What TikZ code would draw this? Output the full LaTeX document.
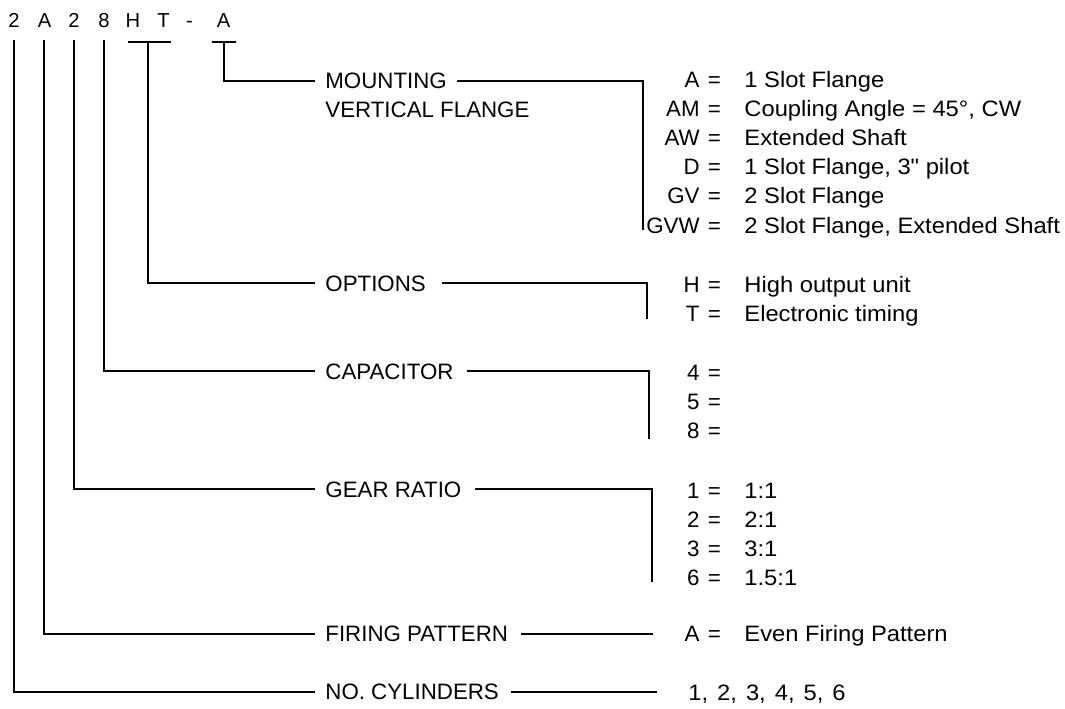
\documentclass[tikz,border=0pt]{standalone}
\usepackage{fontspec}
\setmainfont{Liberation Sans}
\newfontfamily\valfont[FakeStretch=1.065]{Liberation Sans}
\newcommand\lblsize{\fontsize{11.15pt}{13pt}\selectfont}
\newcommand\codesize{\fontsize{10.1pt}{12pt}\selectfont}
\tikzset{
  lbl/.style={anchor=base west, inner sep=0pt, font=\lblsize},
  keyc/.style={anchor=base east, inner sep=0pt, font=\lblsize},
  eqc/.style={anchor=base, inner sep=0pt, font=\lblsize},
  valc/.style={anchor=base west, inner sep=0pt, font=\valfont\lblsize},
  codec/.style={anchor=base, inner sep=0pt, font=\codesize},
  wire/.style={line width=1pt, line cap=butt, line join=miter}
}
\begin{document}
\begin{tikzpicture}[x=0.5pt, y=-0.5pt]
\useasboundingbox (0,0) rectangle (1065,708);

% model code
\node[codec] (c1) at (14,27.7) {2};
\node[codec] (c2) at (44.5,27.7) {A};
\node[codec] (c3) at (74,27.7) {2};
\node[codec] (c4) at (104,27.7) {8};
\node[codec] (c5) at (133,27.7) {H};
\node[codec] (c6) at (163.5,27.7) {T};
\node[codec] (c7) at (189.5,27.7) {-};
\node[codec] (c8) at (223.5,27.7) {A};

% bracket coordinates under code letters
\coordinate (t1) at (14,40);
\coordinate (t2) at (44.3,40);
\coordinate (t3) at (74,40);
\coordinate (t4) at (104.3,40);
\coordinate (htL) at (127.5,41.7);
\coordinate (htR) at (170.5,41.7);
\coordinate (htM) at (148.3,41.7);
\coordinate (mL) at (211.5,41.7);
\coordinate (mR) at (235.5,41.7);
\coordinate (mM) at (224,41.7);

% category labels
\node[lbl] (mnt) at (325,88.7) {MOUNTING};
\node[lbl] (vfl) at (325,117.7) {VERTICAL FLANGE};
\node[lbl] (opt) at (325,291) {OPTIONS};
\node[lbl] (cap) at (325,379) {CAPACITOR};
\node[lbl] (gear) at (325,497) {GEAR RATIO};
\node[lbl] (fir) at (325,641.5) {FIRING PATTERN};
\node[lbl] (cyl) at (325,699.7) {NO. CYLINDERS};

% bracket ends on the right
\coordinate (mntB) at (643.3,230);
\coordinate (optB) at (646.7,318.5);
\coordinate (capB) at (649.3,438.5);
\coordinate (gearB) at (651.7,581.5);
\coordinate (firE) at (653.3,0);
\coordinate (cylE) at (656.7,0);

% left connectors
\draw[wire] (htL) -- (htR);
\draw[wire] (mL) -- (mR);
\draw[wire] (mM) |- ([xshift=-5pt]mnt.west);
\draw[wire] (htM) |- ([xshift=-5pt]opt.west);
\draw[wire] (t4) |- ([xshift=-5pt]cap.west);
\draw[wire] (t3) |- ([xshift=-5pt]gear.west);
\draw[wire] (t2) |- ([xshift=-5pt]fir.west);
\draw[wire] (t1) |- ([xshift=-5pt]cyl.west);

% right connectors
\draw[wire] ([xshift=5pt]mnt.east) -| (mntB);
\draw[wire] ([xshift=8pt]opt.east) -| (optB);
\draw[wire] ([xshift=6.5pt]cap.east) -| (capB);
\draw[wire] ([xshift=6.5pt]gear.east) -| (gearB);
\draw[wire] ([xshift=6.5pt]fir.east) -- (fir.east -| firE);
\draw[wire] ([xshift=6pt]cyl.east) -- (cyl.east -| cylE);

% mounting values
\node[keyc] (kA) at (700,87) {A};   \node[eqc] (eA) at (714.5,87) {=};   \node[valc] (vA) at (744,87) {1 Slot Flange};
\node[keyc] (kAM) at (700,116) {AM}; \node[eqc] (eAM) at (714.5,116) {=}; \node[valc] (vAM) at (744,116) {Coupling Angle = 45°, CW};
\node[keyc] (kAW) at (700,145) {AW}; \node[eqc] (eAW) at (714.5,145) {=}; \node[valc] (vAW) at (744,145) {Extended Shaft};
\node[keyc] (kD) at (700,174) {D};   \node[eqc] (eD) at (714.5,174) {=};   \node[valc] (vD) at (744,174) {1 Slot Flange, 3" pilot};
\node[keyc] (kGV) at (700,203.5) {GV}; \node[eqc] (eGV) at (714.5,203.5) {=}; \node[valc] (vGV) at (744,203.5) {2 Slot Flange};
\node[keyc] (kGVW) at (700,233) {GVW}; \node[eqc] (eGVW) at (714.5,233) {=}; \node[valc] (vGVW) at (744,233) {2 Slot Flange, Extended Shaft};

% options values
\node[keyc] (kH) at (700,292) {H}; \node[eqc] (eH) at (714.5,292) {=}; \node[valc] (vH) at (744,292) {High output unit};
\node[keyc] (kT) at (700,321) {T}; \node[eqc] (eT) at (714.5,321) {=}; \node[valc] (vT) at (744,321) {Electronic timing};

% capacitor values
\node[keyc] (k4) at (700,380) {4}; \node[eqc] (e4) at (714.5,380) {=};
\node[keyc] (k5) at (700,409) {5}; \node[eqc] (e5) at (714.5,409) {=};
\node[keyc] (k8) at (700,438) {8}; \node[eqc] (e8) at (714.5,438) {=};

% gear ratio values
\node[keyc] (k1) at (700,498) {1}; \node[eqc] (eg1) at (714.5,498) {=}; \node[valc] (vg1) at (744,498) {1:1};
\node[keyc] (k2) at (700,527) {2}; \node[eqc] (eg2) at (714.5,527) {=}; \node[valc] (vg2) at (744,527) {2:1};
\node[keyc] (k3) at (700,556) {3}; \node[eqc] (eg3) at (714.5,556) {=}; \node[valc] (vg3) at (744,556) {3:1};
\node[keyc] (k6) at (700,585) {6}; \node[eqc] (eg6) at (714.5,585) {=}; \node[valc] (vg6) at (744,585) {1.5:1};

% firing pattern
\node[keyc] (kFA) at (700,641) {A}; \node[eqc] (eFA) at (714.5,641) {=}; \node[valc] (vFA) at (744,641) {Even Firing Pattern};

% cylinders
\node[valc] (vcyl) at (688,700) {1,\hspace{1.2pt} 2,\hspace{1.2pt} 3,\hspace{1.2pt} 4,\hspace{1.2pt} 5,\hspace{1.2pt} 6};
\end{tikzpicture}
\end{document}
